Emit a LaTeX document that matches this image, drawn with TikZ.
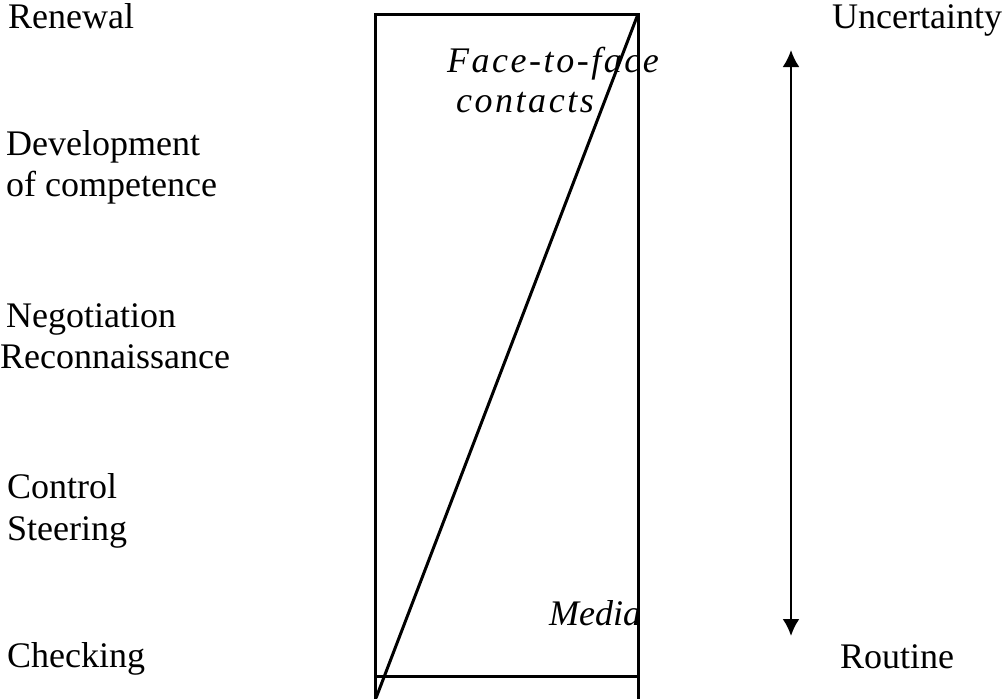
\documentclass[tikz,border=0pt]{standalone}
\usepackage{fontspec}
\setmainfont{Liberation Serif}
\usetikzlibrary{arrows.meta,positioning}

\begin{document}
\begin{tikzpicture}[x=1pt,y=-1pt,
    lbl/.style={inner sep=0pt, anchor=base west, font=\fontsize{36}{41}\selectfont},
    ilbl/.style={lbl, font=\fontsize{36}{41}\selectfont\itshape\addfontfeature{LetterSpace=7}},
    edge/.style={line width=3pt},
    dualarrow/.style={line width=2.5pt, {Latex[length=17pt,width=17pt]}-{Latex[length=17pt,width=17pt]}}]
    \useasboundingbox (0,0) rectangle (1008,699);
    % levels on the left
    \node[lbl] (renewal) at (8,28) {Renewal};
    \node[lbl] (devel) at (6,155) {Development};
    \node[lbl] (compet) at (6,196) {of competence};
    \node[lbl] (negot) at (6,327) {Negotiation};
    \node[lbl] (recon) at (0,368) {Reconnaissance};
    \node[lbl] (control) at (7,498) {Control};
    \node[lbl] (steer) at (7,540) {Steering};
    \node[lbl] (check) at (7,667) {Checking};
    % the box with its split
    \coordinate (tl) at (375,14);
    \coordinate (tr) at (638,14);
    \coordinate (bl) at (375,699);
    \coordinate (br) at (638,699);
    \coordinate (lb) at (375,676);
    \coordinate (rb) at (638,676);
    \coordinate (dend) at (376,698);
    \draw[edge] (bl) -- (tl) -- (tr) -- (br);
    \draw[edge] (lb) -- (rb);
    \draw[edge] (tr) -- (dend);
    \node[ilbl] (facef) at (447,72) {Face-to-face};
    \node[ilbl] (contacts) at (456,112) {contacts};
    \node[lbl, font=\fontsize{36}{41}\selectfont\itshape] (media) at (549,625) {Media};
    % scale on the right
    \coordinate (high) at (791,50);
    \coordinate (low) at (791,636);
    \draw[dualarrow] (high) -- (low);
    \node[lbl] (uncert) at (832,28) {Uncertainty};
    \node[lbl] (routine) at (840,668) {Routine};
\end{tikzpicture}
\end{document}
